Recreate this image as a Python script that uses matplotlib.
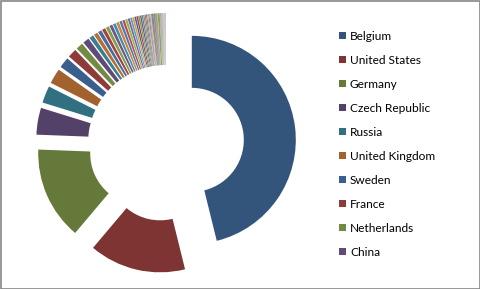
import numpy as np
import matplotlib.pyplot as plt
from matplotlib.patches import Rectangle

# shares of the ring (in degrees of arc)
countries = ["Belgium", "United States", "Germany", "Czech Republic", "Russia",
             "United Kingdom", "Sweden", "France", "Netherlands", "China",
             "Italy", "Spain", "Canada", "Denmark", "Austria", "Switzerland",
             "Poland", "Japan", "Brazil", "Norway", "Finland", "Ireland",
             "Australia", "Mexico", "Hungary", "Slovakia", "Portugal", "Greece",
             "India", "South Korea", "Ukraine", "Romania", "Bulgaria", "Croatia",
             "Slovenia", "Serbia", "Turkey", "Israel", "Argentina", "Chile",
             "South Africa", "New Zealand", "Estonia", "Latvia", "Lithuania",
             "Luxembourg", "Belarus", "Singapore", "Thailand", "Vietnam",
             "Malaysia", "Taiwan", "Colombia", "Peru", "Egypt", "Morocco",
             "Iceland", "Cyprus", "Malta", "Kazakhstan", "Georgia",
             "Philippines", "Indonesia", "Nigeria", "Kenya"]
top_values = [166, 54, 52, 15, 9.5, 8.5, 6, 5, 4, 3.5]
tail_values = [2.4, 2.2, 2.0, 1.9, 1.8, 1.7, 1.6, 1.5, 1.4, 1.3,
               1.2, 1.1, 1.0, 0.95, 0.9, 0.85, 0.8, 0.75, 0.7, 0.65,
               0.6, 0.55, 0.5, 0.5, 0.45, 0.45, 0.4, 0.4, 0.35, 0.35,
               0.3, 0.3, 0.3, 0.25, 1.2, 0.25, 0.25, 0.2, 0.2, 0.2,
               0.2, 0.15, 0.15, 0.15, 0.15, 0.1, 0.1, 0.1, 0.1, 0.1,
               0.05, 0.05, 0.05, 0.05, 0.05]
values = top_values + tail_values
n_legend = 10

# excel-ish palette: 6 hues, each round a different shade
base = np.array([[79, 129, 189], [192, 80, 77], [155, 187, 89],
                 [128, 100, 162], [75, 172, 198], [247, 150, 70]]) / 255.0
shades = [0.65, 0.74, 0.85, 0.95, 0.8, 1.0, 0.7, 0.9, 1.15, 1.3, 1.1, 1.25]
colors = []
for i in range(len(values)):
    c = base[i % 6]
    s = shades[(i // 6) % len(shades)]
    if s <= 1:
        c = c * s
    else:
        c = c + (1 - c) * (s - 1)
    colors.append(tuple(np.clip(c, 0, 1)))

W, H = 481, 289
fig = plt.figure(figsize=(W / 100, H / 100), dpi=100)
ax = fig.add_axes([0, 0, 1, 1])

R = 104.0
cx, cy = 166.0, 143.0
wedges, _ = ax.pie(values, colors=colors, radius=1, startangle=90,
                   counterclock=False, explode=[0.25] * len(values),
                   wedgeprops=dict(width=0.5, linewidth=0))
ax.set_aspect('auto')
ax.set_xlim(-cx / R, (W - cx) / R)
ax.set_ylim(-(H - cy) / R, cy / R)
ax.axis('off')

# legend, only first 10 entries like the excel one
for i in range(n_legend):
    yc = 35.5 + 24 * i
    fig.patches.append(Rectangle((339 / W, 1 - (yc + 3.5) / H), 7 / W, 7 / H,
                                 transform=fig.transFigure, facecolor=colors[i],
                                 edgecolor='none'))
    fig.text(350 / W, 1 - (yc + 0.5) / H, countries[i], fontsize=8.6,
             family='Lato', va='center', ha='left', color='#000000')

# chart border
fig.patches.append(Rectangle((0.5 / W, 0.5 / H), (W - 1.5) / W, (H - 1.5) / H,
                             transform=fig.transFigure, fill=False,
                             edgecolor='#868686', linewidth=1.2))

plt.savefig("out.png", dpi=100)
